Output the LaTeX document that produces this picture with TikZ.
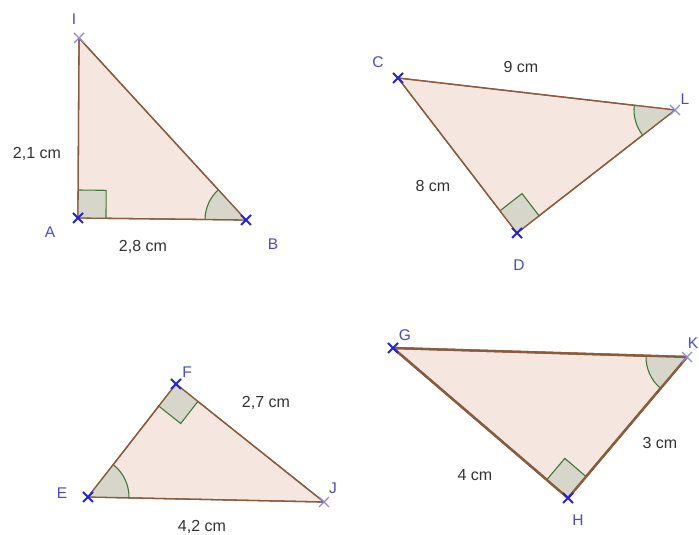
\documentclass[tikz,border=0pt]{standalone}
\usepackage{fontspec}
\setmainfont{Liberation Sans}
\usetikzlibrary{angles,calc}
\definecolor{edgec}{HTML}{8C5A3C}
\definecolor{fillc}{HTML}{F5E6E0}
\definecolor{angfill}{HTML}{D6D6CA}
\definecolor{anggreen}{HTML}{3C7A3C}
\definecolor{ptdark}{HTML}{2424E0}
\definecolor{ptlight}{HTML}{8A8AE6}
\definecolor{lblc}{HTML}{4A4AD0}
\tikzset{
  tri/.style={draw=edgec,fill=fillc,line width=1.3pt,line join=round},
  trithick/.style={tri,line width=2.3pt},
  ang/.style={draw=anggreen,fill=angfill,line width=1.1pt,angle radius=41pt},
  rang/.style={draw=anggreen,fill=angfill,line width=1.1pt,angle radius=28pt},
  lbl/.style={text=lblc,font=\fontsize{15.5}{17}\selectfont,inner sep=0pt},
  meas/.style={text=black!80,font=\fontsize{16}{18}\selectfont,inner sep=0pt},
  xdark/.style={draw=ptdark,line width=2pt},
  xlight/.style={draw=ptlight,line width=1.3pt}
}
\newcommand{\xmark}[2]{\draw[#1] ($(#2)+(-5pt,-5pt)$) -- ($(#2)+(5pt,5pt)$) ($(#2)+(-5pt,5pt)$) -- ($(#2)+(5pt,-5pt)$);}
\begin{document}
\begin{tikzpicture}[x=1pt,y=1pt]
\useasboundingbox[fill=white] (0,0) rectangle (699,535);
% points
\coordinate (I) at (79,497);
\coordinate (A) at (78,317);
\coordinate (B) at (246,315);
\coordinate (C) at (398,457);
\coordinate (L) at (675,425);
\coordinate (D) at (517,302);
\coordinate (E) at (88,38);
\coordinate (F) at (176,151);
\coordinate (J) at (324,33);
\coordinate (G) at (393,187);
\coordinate (K) at (687,178);
\coordinate (H) at (568,37);
% triangles
\path[tri] (I) -- (A) -- (B) -- cycle;
\path[tri] (C) -- (L) -- (D) -- cycle;
\path[tri] (E) -- (F) -- (J) -- cycle;
\path[trithick] (G) -- (K) -- (H) -- cycle;
% angles
\pic[rang] {right angle = B--A--I};
\pic[ang] {angle = I--B--A};
\pic[rang] {right angle = L--D--C};
\pic[ang] {angle = C--L--D};
\pic[rang] {right angle = E--F--J};
\pic[ang] {angle = J--E--F};
\pic[rang] {right angle = K--H--G};
\pic[ang] {angle = G--K--H};
% redraw edges over angle fills
\draw[draw=edgec,line width=1.3pt,line join=round] (I) -- (A) -- (B) -- cycle;
\draw[draw=edgec,line width=1.3pt,line join=round] (C) -- (L) -- (D) -- cycle;
\draw[draw=edgec,line width=1.3pt,line join=round] (E) -- (F) -- (J) -- cycle;
\draw[draw=edgec,line width=2.3pt,line join=round] (G) -- (K) -- (H) -- cycle;
% point markers
\xmark{xlight}{I}
\xmark{xdark}{A}
\xmark{xdark}{B}
\xmark{xdark}{C}
\xmark{xlight}{L}
\xmark{xdark}{D}
\xmark{xdark}{E}
\xmark{xdark}{F}
\xmark{xlight}{J}
\xmark{xdark}{G}
\xmark{xlight}{K}
\xmark{xdark}{H}
% point labels
\node[lbl] (lI) at (74,516) {I};
\node[lbl] (lA) at (50,303) {A};
\node[lbl] (lB) at (273,291) {B};
\node[lbl] (lC) at (378,473) {C};
\node[lbl] (lL) at (685,436) {L};
\node[lbl] (lD) at (519,270) {D};
\node[lbl] (lF) at (187,163) {F};
\node[lbl] (lE) at (62,42) {E};
\node[lbl] (lJ) at (333,47) {J};
\node[lbl] (lG) at (405,200) {G};
\node[lbl] (lK) at (693,192) {K};
\node[lbl] (lH) at (578,15) {H};
% measures
\node[meas] (m1) at (37,381) {2,1 cm};
\node[meas] (m2) at (143,288) {2,8 cm};
\node[meas] (m3) at (521,468) {9 cm};
\node[meas] (m4) at (433,349) {8 cm};
\node[meas] (m5) at (266,132) {2,7 cm};
\node[meas] (m6) at (202,8) {4,2 cm};
\node[meas] (m7) at (660,92) {3 cm};
\node[meas] (m8) at (475,60) {4 cm};
\end{tikzpicture}
\end{document}
